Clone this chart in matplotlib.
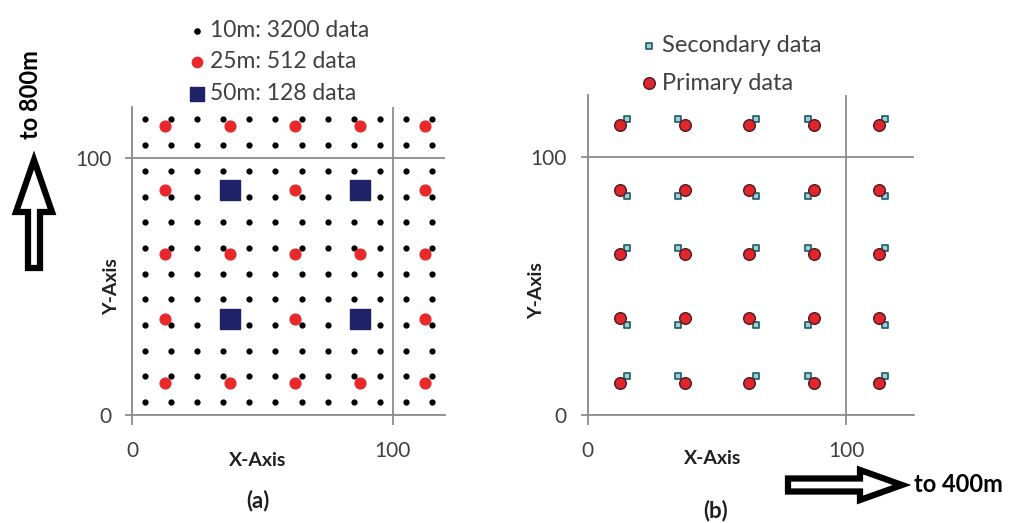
import matplotlib
matplotlib.use('Agg')
import matplotlib.pyplot as plt
from matplotlib.patches import FancyArrow
import numpy as np

plt.rcParams['font.family'] = ['Lato', 'DejaVu Sans']

# panel (a): three sampling grids
grid10_x = [5, 15, 25, 35, 45, 55, 65, 75, 85, 95, 105, 115]
grid10_y = [5, 15, 25, 35, 45, 55, 65, 75, 85, 95, 105, 115]
grid25_x = [12.5, 37.5, 62.5, 87.5, 112.5]
grid25_y = [12.5, 37.5, 62.5, 87.5, 112.5]
grid50_x = [37.5, 87.5]
grid50_y = [37.5, 87.5]
labels_a = ['10m: 3200 data', '25m: 512 data', '50m: 128 data']

# panel (b): primary and secondary locations
prim_x = [12.5, 37.5, 62.5, 87.5, 112.5]
prim_y = [12.5, 37.5, 62.5, 87.5, 112.5]
sec_x = [15, 35, 65, 85, 115]
sec_y = [15, 35, 65, 85, 115]
labels_b = ['Secondary data', 'Primary data']

ticks = [0, 100]

W, H = 1018, 523
fig = plt.figure(figsize=(W / 100, H / 100), dpi=100)

ax1 = fig.add_axes([132 / W, (H - 415) / H, 313 / W, 308.4 / H])
ax2 = fig.add_axes([587.7 / W, (H - 415) / H, 326 / W, 319.5 / H])

gray = '#8c8c8c'
txt = '#404040'

def style(ax, xmax, ymax):
    ax.set_xlim(0, xmax)
    ax.set_ylim(0, ymax)
    ax.set_xticks(ticks)
    ax.set_yticks(ticks)
    for s in ['top', 'right']:
        ax.spines[s].set_visible(False)
    for s in ['left', 'bottom']:
        ax.spines[s].set_color(gray)
        ax.spines[s].set_linewidth(1.3)
    ax.grid(True, color=gray, lw=1.3)
    ax.set_axisbelow(True)
    ax.tick_params(axis='x', direction='out', length=7, width=1.3, color=gray,
                   labelsize=15, labelcolor=txt, pad=12)
    ax.tick_params(axis='y', direction='out', length=5, width=1.3, color=gray,
                   labelsize=15, labelcolor=txt, pad=10)

style(ax1, 120, 120)
style(ax2, 126, 124)

gx, gy = np.meshgrid(grid10_x, grid10_y)
ax1.scatter(gx.ravel(), gy.ravel(), s=12, color='black', label=labels_a[0], zorder=3)
mx, my = np.meshgrid(grid25_x, grid25_y)
ax1.scatter(mx.ravel(), my.ravel(), s=60, color='#e8282a', label=labels_a[1], zorder=4)
cx, cy = np.meshgrid(grid50_x, grid50_y)
ax1.scatter(cx.ravel(), cy.ravel(), s=190, marker='s', color='#1e2266', label=labels_a[2], zorder=5)

px, py = np.meshgrid(prim_x, prim_y)
sx, sy = np.meshgrid(sec_x, sec_y)
ax2.scatter(sx.ravel(), sy.ravel(), s=22, marker='s', facecolor='#9fd0d0',
            edgecolor='#1f5a66', linewidth=1.2, label=labels_b[0], zorder=3)
ax2.scatter(px.ravel(), py.ravel(), s=70, facecolor='#e0262b',
            edgecolor='#4a1a24', linewidth=1.0, label=labels_b[1], zorder=4)

leg1 = ax1.legend(loc='upper left', bbox_to_anchor=(188 / W, (H - 20) / H),
                  bbox_transform=fig.transFigure, frameon=False, fontsize=16.5,
                  borderpad=0, handlelength=0.8, handletextpad=0.15,
                  labelspacing=0.45, scatterpoints=1, borderaxespad=0)
for t in leg1.get_texts():
    t.set_color(txt)
for h, s in zip(leg1.legend_handles, [14, 55, 95]):
    h.set_sizes([s])

leg2 = ax2.legend(loc='upper left', bbox_to_anchor=(640 / W, (H - 35) / H),
                  bbox_transform=fig.transFigure, frameon=False, fontsize=17,
                  borderpad=0, handlelength=0.8, handletextpad=0.15,
                  labelspacing=0.7, scatterpoints=1, borderaxespad=0)
for t in leg2.get_texts():
    t.set_color(txt)

def fx(px_):
    return px_ / W

def fy(py_):
    return (H - py_) / H

fig.text(fx(258), fy(461), 'X-Axis', ha='center', va='center', fontsize=14, fontweight='bold', color='#202020')
fig.text(fx(713), fy(459), 'X-Axis', ha='center', va='center', fontsize=14, fontweight='bold', color='#202020')
fig.text(fx(112), fy(287), 'Y-Axis', ha='center', va='center', rotation=90, fontsize=14, fontweight='bold', color='#202020')
fig.text(fx(537), fy(291), 'Y-Axis', ha='center', va='center', rotation=90, fontsize=14, fontweight='bold', color='#202020')
fig.text(fx(258), fy(501), '(a)', ha='center', va='center', fontsize=16, fontweight='bold', color='#202020')
fig.text(fx(716), fy(511), '(b)', ha='center', va='center', fontsize=16, fontweight='bold', color='#202020')
fig.text(fx(31), fy(95), 'to 800m', ha='center', va='center', rotation=90, fontsize=17, fontweight='bold', color='black')
fig.text(fx(914), fy(485), 'to 400m', ha='left', va='center', fontsize=17, fontweight='bold', color='black')

# hollow arrows (inch coordinates)
tr = fig.dpi_scale_trans
a1 = FancyArrow(0.34, (H - 268) / 100, 0, 1.08, width=0.12, head_width=0.36,
                head_length=0.52, length_includes_head=True, facecolor='white',
                edgecolor='black', linewidth=4.5, transform=tr, joinstyle='miter')
a2 = FancyArrow(7.88, (H - 485) / 100, 1.14, 0, width=0.13, head_width=0.30,
                head_length=0.42, length_includes_head=True, facecolor='white',
                edgecolor='black', linewidth=4.5, transform=tr, joinstyle='miter')
fig.add_artist(a1)
fig.add_artist(a2)

fig.savefig('out.png', dpi=100, facecolor='white')
